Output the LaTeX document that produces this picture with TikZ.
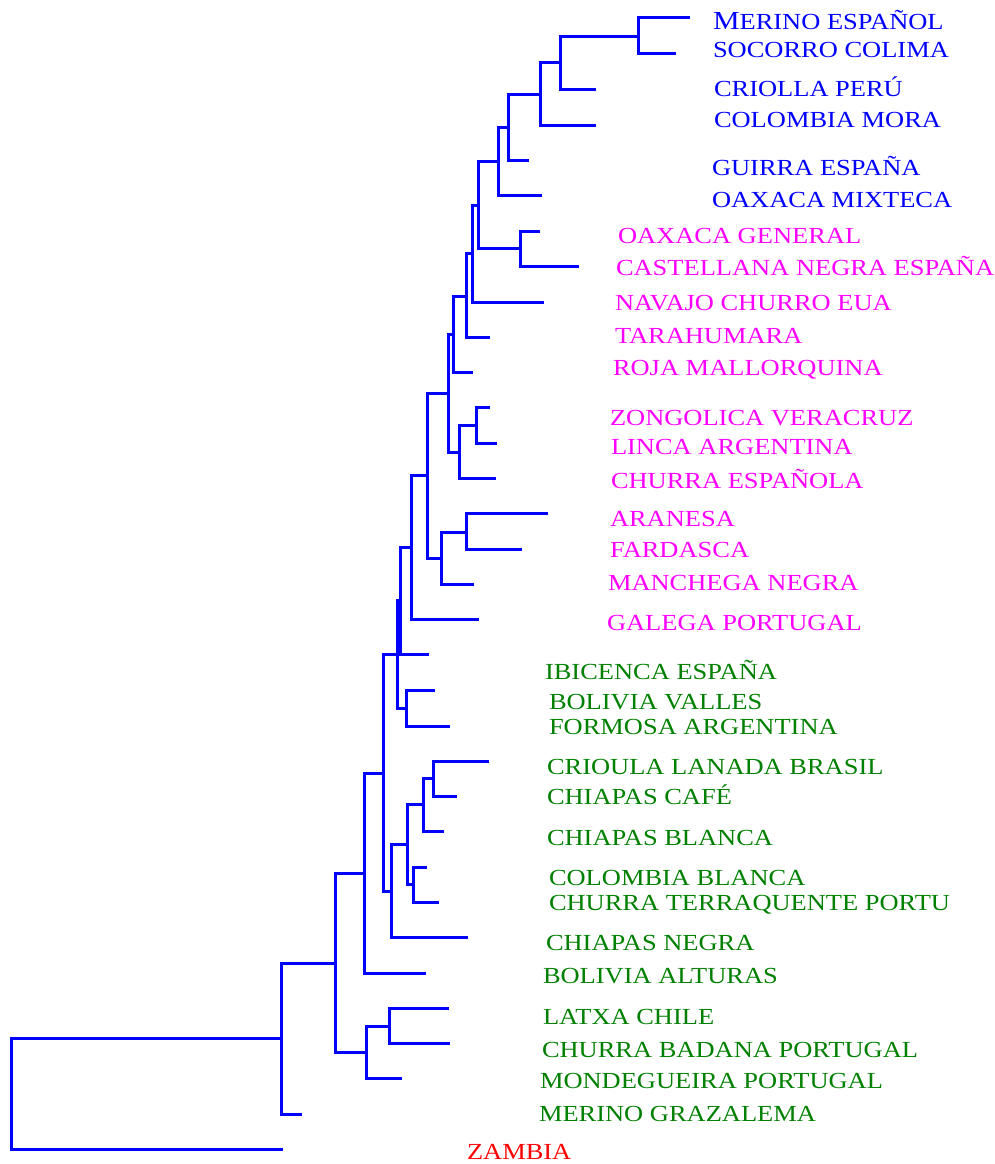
\documentclass[tikz,border=0pt]{standalone}
\usepackage{fontspec}
\setmainfont{Liberation Serif}[FakeStretch=1.15]
\definecolor{tblue}{RGB}{0,0,255}
\definecolor{tmag}{RGB}{255,0,255}
\definecolor{tgreen}{RGB}{0,128,0}
\definecolor{tred}{RGB}{255,0,0}
\tikzset{
  branch/.style={draw=tblue, line width=3pt, line cap=rect, line join=miter},
  lab/.style={anchor=base west, inner sep=0pt, outer sep=0pt, font=\fontsize{23}{23}\selectfont},
  labb/.style={lab, text=tblue},
  labm/.style={lab, text=tmag},
  labg/.style={lab, text=tgreen},
  labr/.style={lab, text=tred}
}
\begin{document}
\begin{tikzpicture}[x=1pt, y=-1pt]
\useasboundingbox (0,0) rectangle (995,1164);
% leaf tips
\coordinate (l1) at (688,18);
\coordinate (l2) at (674,54);
\coordinate (l3) at (594,89);
\coordinate (l4) at (594,125);
\coordinate (l5) at (527,160);
\coordinate (l6) at (540,195);
\coordinate (l7) at (538,231);
\coordinate (l8) at (577,266);
\coordinate (l9) at (542,302);
\coordinate (l10) at (488,337);
\coordinate (l11) at (471,372);
\coordinate (l12) at (488,407);
\coordinate (l13) at (495,443);
\coordinate (l14) at (494,478);
\coordinate (l15) at (546,513);
\coordinate (l16) at (520,549);
\coordinate (l17) at (472,584);
\coordinate (l18) at (477,619);
\coordinate (l19) at (427,654);
\coordinate (l20) at (433,690);
\coordinate (l21) at (448,726);
\coordinate (l22) at (487,761);
\coordinate (l23) at (455,796);
\coordinate (l24) at (442,831);
\coordinate (l25) at (425,867);
\coordinate (l26) at (437,902);
\coordinate (l27) at (466,937);
\coordinate (l28) at (424,973);
\coordinate (l29) at (447,1008);
\coordinate (l30) at (448,1043);
\coordinate (l31) at (400,1078);
\coordinate (l32) at (300,1114);
\coordinate (l33) at (281,1149);
% internal nodes
\coordinate (nA) at (638,37);
\coordinate (nB) at (560,63);
\coordinate (nC) at (540,94);
\coordinate (nD) at (508,127);
\coordinate (nE) at (498,161);
\coordinate (nG) at (520,248);
\coordinate (nF) at (478,205);
\coordinate (nH) at (472,253);
\coordinate (nI) at (466,296);
\coordinate (nJ) at (453,334);
\coordinate (nM) at (476,425);
\coordinate (nL) at (459,452);
\coordinate (nK) at (448,393);
\coordinate (nP) at (466,532);
\coordinate (nO) at (441,558);
\coordinate (nN) at (427,475);
\coordinate (nQ) at (411,547);
\coordinate (nSa) at (400,600);
\coordinate (nR) at (406,708);
\coordinate (nSb) at (397,654);
\coordinate (nVa) at (433,778);
\coordinate (nVb) at (423,804);
\coordinate (nVc) at (413,884);
\coordinate (nV) at (407,844);
\coordinate (nW) at (391,891);
\coordinate (nT) at (383,773);
\coordinate (nX) at (364,873);
\coordinate (nAA) at (389,1026);
\coordinate (nZ) at (366,1052);
\coordinate (nY) at (335,963);
\coordinate (nBB) at (281,1038);
\coordinate (root) at (11,1038);
% branches
\foreach \p/\c in {nA/l1, nA/l2, nB/nA, nB/l3, nC/nB, nC/l4, nD/nC, nD/l5,
  nE/nD, nE/l6, nG/l7, nG/l8, nF/nE, nF/nG, nH/nF, nH/l9, nI/nH, nI/l10,
  nJ/nI, nJ/l11, nM/l12, nM/l13, nL/nM, nL/l14, nK/nJ, nK/nL, nP/l15, nP/l16,
  nO/nP, nO/l17, nN/nK, nN/nO, nQ/nN, nQ/l18, nSa/nQ, nSa/l19, nR/l20, nR/l21,
  nSb/nSa, nSb/nR, nVa/l22, nVa/l23, nVb/nVa, nVb/l24, nVc/l25, nVc/l26,
  nV/nVb, nV/nVc, nW/nV, nW/l27, nT/nSb, nT/nW, nX/nT, nX/l28, nAA/l29, nAA/l30,
  nZ/nAA, nZ/l31, nY/nX, nY/nZ, nBB/nY, nBB/l32, root/nBB, root/l33}
  \draw[branch] (\p) |- (\c);
% labels
\node[labb] (t1) at (713,30) {{\fontsize{26}{26}\selectfont M}ERINO ESPAÑOL};
\node[labb] (t2) at (713,58) {SOCORRO COLIMA};
\node[labb] (t3) at (714,96) {CRIOLLA PERÚ};
\node[labb] (t4) at (714,127) {COLOMBIA MORA};
\node[labb] (t5) at (712,175) {GUIRRA ESPAÑA};
\node[labb] (t6) at (712,207) {OAXACA MIXTECA};
\node[labm] (t7) at (618,243) {OAXACA GENERAL};
\node[labm] (t8) at (616,275) {CASTELLANA NEGRA ESPAÑA};
\node[labm] (t9) at (615,310) {NAVAJO CHURRO EUA};
\node[labm] (t10) at (615,343) {TARAHUMARA};
\node[labm] (t11) at (613,375) {ROJA MALLORQUINA};
\node[labm] (t12) at (610,425) {ZONGOLICA VERACRUZ};
\node[labm] (t13) at (611,454) {LINCA ARGENTINA};
\node[labm] (t14) at (611,488) {CHURRA ESPAÑOLA};
\node[labm] (t15) at (610,526) {ARANESA};
\node[labm] (t16) at (610,557) {FARDASCA};
\node[labm] (t17) at (608,590) {MANCHEGA NEGRA};
\node[labm] (t18) at (607,630) {GALEGA PORTUGAL};
\node[labg] (t19) at (545,679) {IBICENCA ESPAÑA};
\node[labg] (t20) at (549,709) {BOLIVIA VALLES};
\node[labg] (t21) at (549,734) {FORMOSA ARGENTINA};
\node[labg] (t22) at (547,774) {CRIOULA LANADA BRASIL};
\node[labg] (t23) at (547,804) {CHIAPAS CAFÉ};
\node[labg] (t24) at (547,845) {CHIAPAS BLANCA};
\node[labg] (t25) at (549,885) {COLOMBIA BLANCA};
\node[labg] (t26) at (549,910) {CHURRA TERRAQUENTE PORTU};
\node[labg] (t27) at (546,950) {CHIAPAS NEGRA};
\node[labg] (t28) at (543,983) {BOLIVIA ALTURAS};
\node[labg] (t29) at (543,1024) {LATXA CHILE};
\node[labg] (t30) at (542,1057) {CHURRA BADANA PORTUGAL};
\node[labg] (t31) at (540,1088) {MONDEGUEIRA PORTUGAL};
\node[labg] (t32) at (539,1121) {MERINO GRAZALEMA};
\node[labr] (t33) at (467,1159) {ZAMBIA};
\end{tikzpicture}
\end{document}
